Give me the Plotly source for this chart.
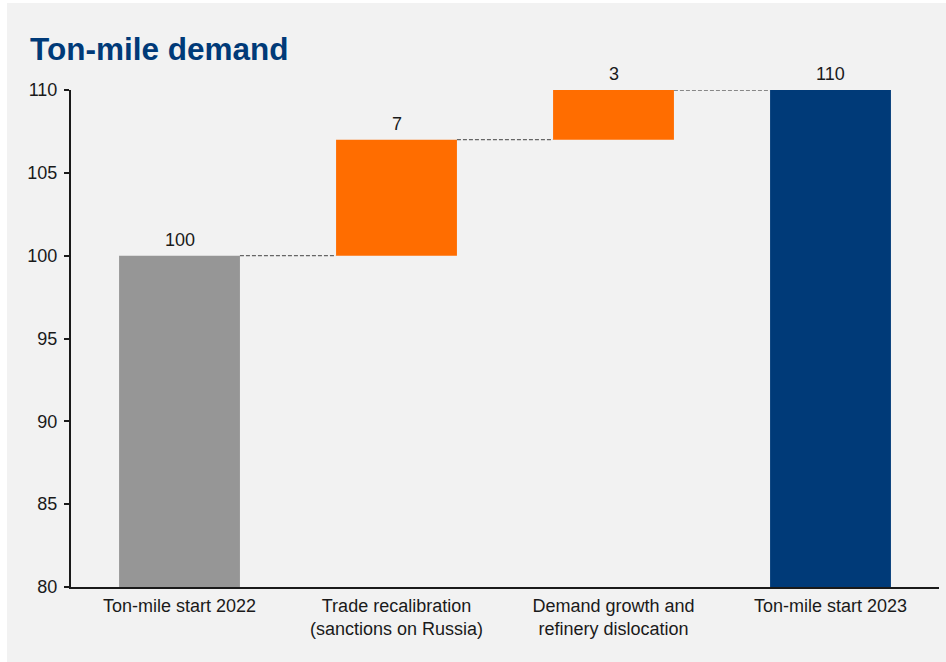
import plotly.graph_objects as go

# Waterfall data: starting level, contributions, ending level
categories = ["Ton-mile start 2022", "Trade recalibration<br>(sanctions on Russia)",
              "Demand growth and<br>refinery dislocation", "Ton-mile start 2023"]
values = [100, 7, 3, 110]
measures = ["absolute", "relative", "relative", "total"]
bar_colors = ["#969696", "#FF6D00", "#FF6D00", "#003A78"]

AXIS_MIN = 80
BAR_WIDTH = 0.557
FONT = "Liberation Sans, Arial, sans-serif"

# Compute bar bases/tops from the measures
bases, tops = [], []
level = AXIS_MIN
for v, m in zip(values, measures):
    if m == "relative":
        bases.append(level)
        tops.append(level + v)
        level += v
    else:
        bases.append(AXIS_MIN)
        tops.append(v)
        level = v
heights = [t - b for t, b in zip(tops, bases)]
xs = list(range(len(categories)))

fig = go.Figure()
fig.add_trace(go.Bar(
    x=xs, y=heights, base=bases, width=BAR_WIDTH,
    marker=dict(color=bar_colors, line=dict(width=0)),
    hoverinfo="skip", showlegend=False,
))

# Value labels above each bar
for x, t, v in zip(xs, tops, values):
    fig.add_annotation(x=x, y=t, text=str(v), showarrow=False, yanchor="bottom",
                       yshift=4, font=dict(family=FONT, size=18, color="#1a1a1a"))

# Dashed connectors between consecutive bars
for i in range(len(xs) - 1):
    fig.add_trace(go.Scatter(
        x=[xs[i] + BAR_WIDTH / 2, xs[i + 1] - BAR_WIDTH / 2],
        y=[tops[i], tops[i]], mode="lines",
        line=dict(color="#666666", width=1.3, dash="4px,2px"),
        hoverinfo="skip", showlegend=False,
    ))

# Light gray panel behind the chart
fig.add_shape(type="rect", xref="paper", yref="paper",
              x0=-0.0737, x1=1.01, y0=-0.16, y1=1.175,
              fillcolor="#F2F2F2", line=dict(width=0), layer="below")

fig.update_layout(
    width=946, height=662,
    margin=dict(l=71, r=7, t=90, b=75),
    paper_bgcolor="white", plot_bgcolor="rgba(0,0,0,0)",
    font=dict(family=FONT, size=18, color="#1a1a1a"),
    title=dict(text="<b>Ton-mile demand</b>", x=30 / 946, xanchor="left",
               y=1 - 49 / 662, yanchor="middle",
               font=dict(family=FONT, size=31.5, color="#003A78")),
    bargap=0.44,
)
fig.update_xaxes(
    range=[-0.5, len(xs) - 0.5], tickmode="array", tickvals=xs, ticktext=categories,
    showgrid=False, zeroline=False, showline=True, linecolor="#1a1a1a", linewidth=2,
    ticks="", tickfont=dict(size=18), ticklabelstandoff=1,
)
fig.update_yaxes(
    range=[80, 110], tickmode="array", tickvals=[80, 85, 90, 95, 100, 105, 110],
    showgrid=False, zeroline=False, showline=True, linecolor="#1a1a1a", linewidth=2,
    ticks="outside", ticklen=5, tickwidth=1.5, tickcolor="#1a1a1a",
    tickfont=dict(size=18), ticklabelstandoff=3,
)

fig.write_html("out.html")
